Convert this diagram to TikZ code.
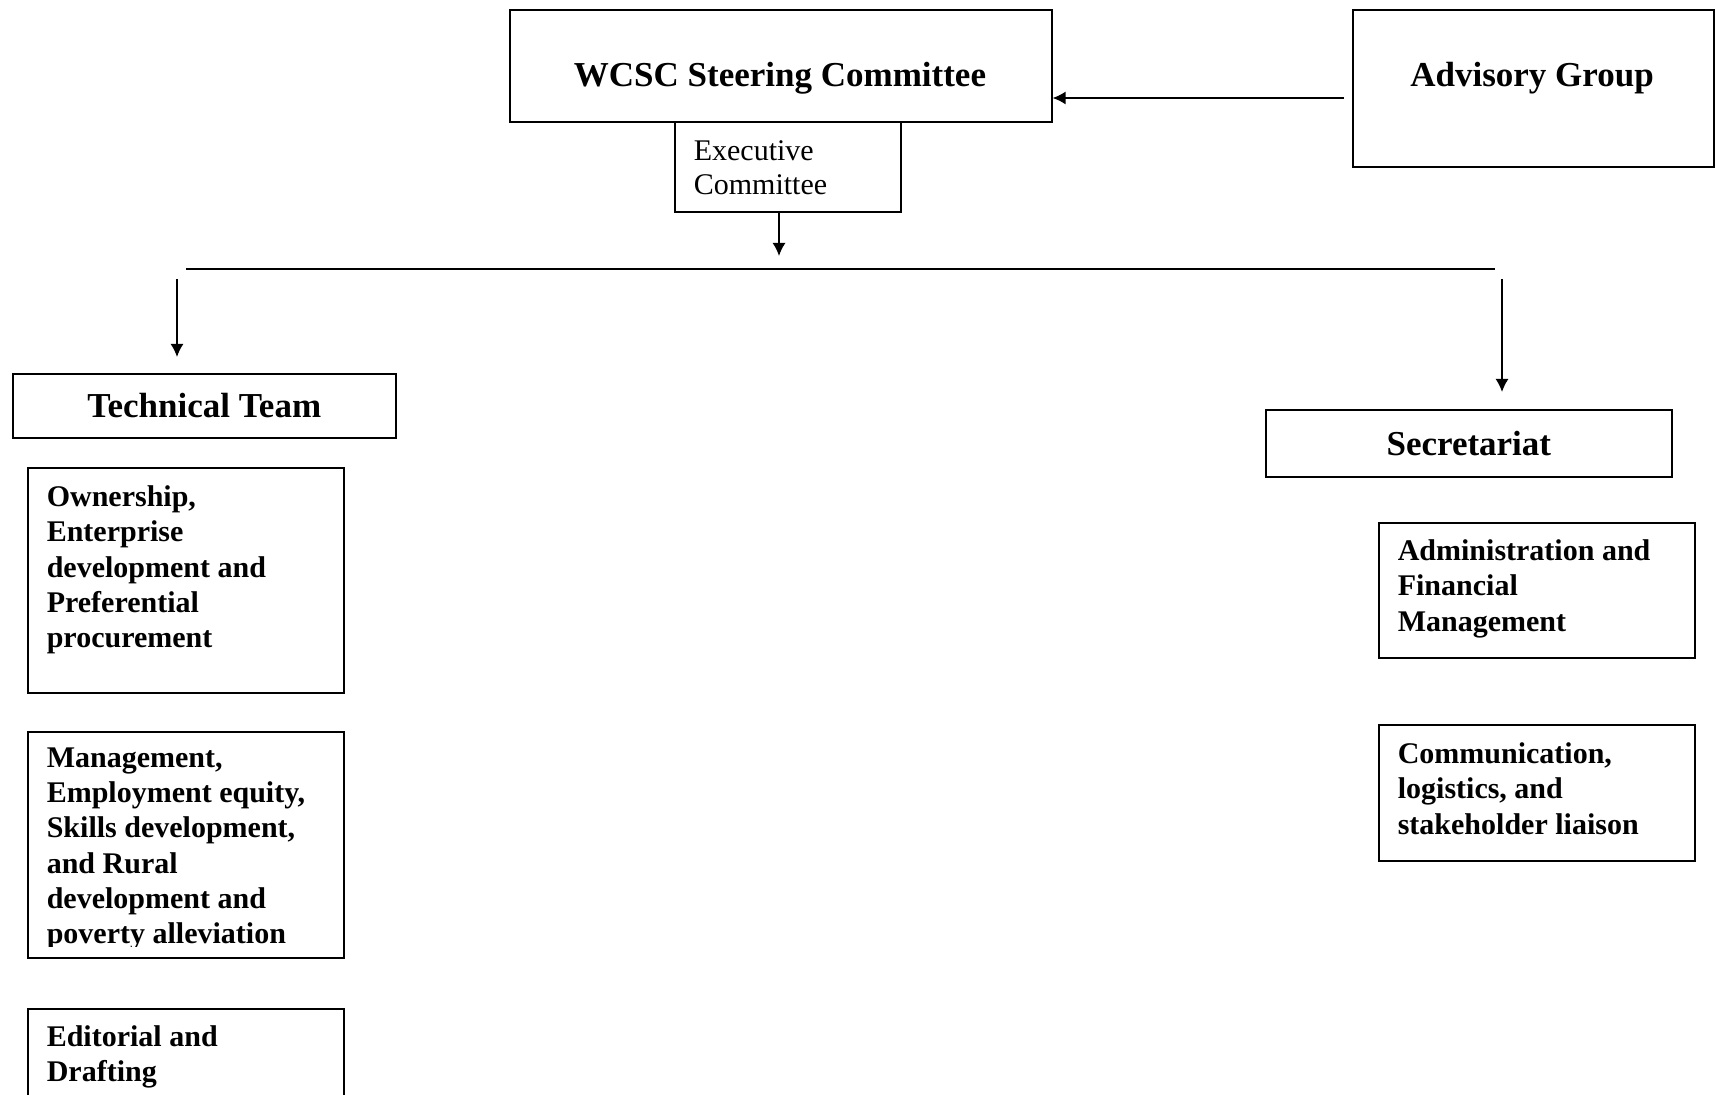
\documentclass[tikz,border=0pt]{standalone}
\usepackage{fontspec}
\setmainfont{Liberation Serif}
\usetikzlibrary{arrows.meta, calc}

\tikzset{
	frame/.style={draw, rectangle, line width=0.8pt, inner sep=0pt, anchor=north west},
	boxsize/.style 2 args={minimum width={#1*0.5pt}, minimum height={#2*0.5pt}},
	headtxt/.style={font=\bfseries\fontsize{17.5}{21}\selectfont},
	bodytxt/.style={font=\bfseries\fontsize{15}{17.6}\selectfont, align=left, anchor=north west, inner sep=0pt},
	plaintxt/.style={font=\fontsize{15}{17}\selectfont, align=left, anchor=north west, inner sep=0pt},
}

\begin{document}
\begin{tikzpicture}[x=0.5pt, y=-0.5pt, line width=0.8pt, >={Latex[length=6.5pt, width=6.5pt]}]
	\useasboundingbox (0,0) rectangle (1716,1095);
	\clip (0,0) rectangle (1716,1095);

	% top level
	\node[frame, boxsize={542}{112}] (steer) at (509,9) {};
	\node[headtxt] (steertxt) at (780,78) {WCSC Steering Committee};
	\node[frame, boxsize={226}{90}] (exec) at (674,121) {};
	\node[plaintxt] (exectxt) at (693,140) {Executive\\Committee};
	\node[frame, boxsize={361}{157}] (adv) at (1352,9) {};
	\node[headtxt] (advtxt) at (1532,78) {Advisory Group};

	% technical team
	\node[frame, headtxt, boxsize={383}{64}] (tech) at (12,373) {Technical Team};
	\node[frame, boxsize={316}{225}] (own) at (27,467) {};
	\node[bodytxt] (owntxt) at (46,485)
		{Ownership,\\Enterprise\\development and\\Preferential\\procurement};
	\node[frame, boxsize={316}{226}] (mgmt) at (27,731) {};
	\begin{scope}
		\clip (mgmt.north west) rectangle ([yshift=6pt]mgmt.south east);
		\node[bodytxt] (mgmttxt) at (46,747)
			{Management,\\Employment equity,\\Skills development,\\and Rural\\development and\\poverty alleviation};
	\end{scope}
	\node[frame, boxsize={316}{200}] (edit) at (27,1008) {};
	\node[bodytxt] (edittxt) at (46,1025) {Editorial and\\Drafting};

	% secretariat
	\node[frame, headtxt, boxsize={406}{67}] (sec) at (1265,409) {Secretariat};
	\node[frame, boxsize={316}{135}] (admin) at (1378,522) {};
	\node[bodytxt] (admintxt) at (1397,539)
		{Administration and\\Financial\\Management};
	\node[frame, boxsize={316}{136}] (comm) at (1378,724) {};
	\node[bodytxt] (commtxt) at (1397,742)
		{Communication,\\logistics, and\\stakeholder liaison};

	% connectors
	\coordinate (advout) at (1344,98);
	\draw[->] (advout) -- (advout -| steer.east);
	\coordinate (split) at (779,256);
	\draw[->] (exec.south -| split) -- (split);
	\coordinate (busL) at (186,269);
	\coordinate (busR) at (1495,269);
	\draw (busL) -- (busR);
	\coordinate (techin) at (177,279);
	\draw[->] (techin) -- ($(tech.north -| techin)+(0,-16)$);
	\coordinate (secin) at (1502,279);
	\draw[->] (secin) -- ($(sec.north -| secin)+(0,-17)$);
\end{tikzpicture}
\end{document}
